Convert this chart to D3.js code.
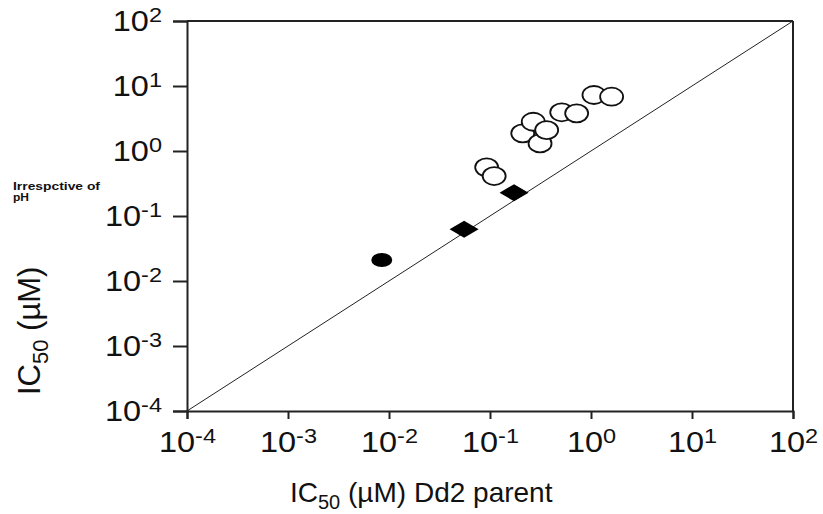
<html>
<head>
<script src="https://cdnjs.cloudflare.com/ajax/libs/d3/7.8.5/d3.min.js"></script>
<style>
body { margin: 0; background: #fff; }
text { font-family: "Liberation Sans", Arial, sans-serif; fill: #111; }
</style>
</head>
<body>
<svg id="chart" width="823" height="514"></svg>
<script>
// axis decades (exponents of 10)
const tickExps = [-4, -3, -2, -1, 0, 1, 2];

// open circles
const openX = [0.0927, 0.110, 0.211, 0.268, 0.313, 0.364, 0.513, 0.721, 1.07, 1.60];
const openY = [0.561, 0.412, 1.87, 2.82, 1.31, 2.10, 3.94, 3.80, 7.27, 6.84];
// filled diamonds
const diamondX = [0.0554, 0.173];
const diamondY = [0.0624, 0.228];
// filled circle
const filledX = [0.00848];
const filledY = [0.0210];

const svg = d3.select("#chart");

var x = d3.scaleLog().domain([1e-4, 1e2]).range([187, 793]);
var y = d3.scaleLog().domain([1e-4, 1e2]).range([411, 21]);
const tickVals = tickExps.map(e => Math.pow(10, e));
const stretch = 1.12; // labels in the original are a bit wide

// put "10" + superscript exponent into each tick label
function supLabels(sel) {
  sel.selectAll(".tick text").each(function(d) {
    var t = d3.select(this);
    t.text("10");
    t.append("tspan").attr("dy", -9).style("font-size", "21px")
      .text(Math.round(Math.log10(d)));
  });
}

// x axis
var gx = svg.append("g").attr("transform", "translate(0,411)")
  .call(d3.axisBottom(x).tickValues(tickVals).tickSize(8).tickPadding(0));
gx.select(".domain").attr("stroke", "#222").attr("stroke-width", 2);
gx.selectAll(".tick line").attr("stroke", "#222").attr("stroke-width", 2);
gx.selectAll(".tick text").style("font-size", "29px").attr("y", 41).attr("dy", 0).attr("fill", "#111")
  .attr("transform", "scale(" + stretch + ",1)");
supLabels(gx);
gx.selectAll(".tick text").attr("text-anchor", "middle");

// y axis
var gy = svg.append("g").attr("transform", "translate(187,0)")
  .call(d3.axisLeft(y).tickValues(tickVals).tickSize(14).tickPadding(11));
gy.select(".domain").attr("stroke", "#222").attr("stroke-width", 2);
gy.selectAll(".tick line").attr("stroke", "#222").attr("stroke-width", 2);
gy.selectAll(".tick text").style("font-size", "29px").attr("dy", 9).attr("fill", "#111")
  .attr("x", -25 / stretch).attr("transform", "scale(" + stretch + ",1)");
supLabels(gy);

// frame top / right
svg.append("line").attr("x1", x(1e-4)).attr("x2", x(1e2)).attr("y1", y(1e2)).attr("y2", y(1e2))
  .attr("stroke", "#222").attr("stroke-width", 2);
svg.append("line").attr("x1", x(1e2)).attr("x2", x(1e2)).attr("y1", y(1e2)).attr("y2", y(1e-4))
  .attr("stroke", "#222").attr("stroke-width", 2);

// identity line
svg.append("line").attr("x1", x(1e-4)).attr("y1", y(1e-4)).attr("x2", x(1e2)).attr("y2", y(1e2))
  .attr("stroke", "#222").attr("stroke-width", 1);

// open circles
svg.append("g").selectAll("ellipse")
  .data(openX.map((v, i) => [v, openY[i]]))
  .enter().append("ellipse")
  .attr("cx", d => x(d[0])).attr("cy", d => y(d[1]))
  .attr("rx", 11.5).attr("ry", 9)
  .attr("fill", "#fff").attr("stroke", "#111").attr("stroke-width", 1.8);

// filled circle
svg.append("g").selectAll("ellipse")
  .data(filledX.map((v, i) => [v, filledY[i]]))
  .enter().append("ellipse")
  .attr("cx", d => x(d[0])).attr("cy", d => y(d[1]))
  .attr("rx", 10.5).attr("ry", 7)
  .attr("fill", "#000");

// diamonds
svg.append("g").selectAll("path")
  .data(diamondX.map((v, i) => [v, diamondY[i]]))
  .enter().append("path")
  .attr("d", "M-14.5,0L0,-8.5L14.5,0L0,8.5Z")
  .attr("transform", d => "translate(" + x(d[0]) + "," + y(d[1]) + ")")
  .attr("fill", "#000");

// axis titles
var xt = svg.append("text").attr("x", 290).attr("y", 502).style("font-size", "28px");
xt.append("tspan").text("IC");
xt.append("tspan").attr("dy", 7).style("font-size", "20px").text("50");
xt.append("tspan").attr("dy", -7).text(" (\u00b5M) Dd2 parent");

var yt = svg.append("text").attr("transform", "translate(40,395) rotate(-90)").style("font-size", "31px");
yt.append("tspan").text("IC");
yt.append("tspan").attr("dy", 8).style("font-size", "22px").text("50");
yt.append("tspan").attr("dy", -8).text(" (\u00b5M)");

// small note
svg.append("text").attr("x", 13).attr("y", 190).style("font-size", "10px").style("font-weight", "bold")
  .attr("fill", "#333").attr("textLength", 87).attr("lengthAdjust", "spacingAndGlyphs").text("Irrespctive of");
svg.append("text").attr("x", 13).attr("y", 201).style("font-size", "10px").style("font-weight", "bold")
  .attr("fill", "#333").attr("textLength", 16).attr("lengthAdjust", "spacingAndGlyphs").text("pH");
</script>
</body>
</html>
